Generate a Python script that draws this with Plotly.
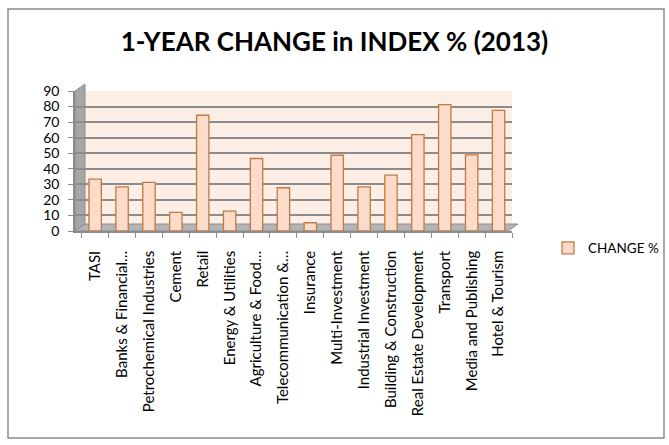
import plotly.graph_objects as go

categories = [
    "TASI", "Banks & Financial…", "Petrochemical Industries", "Cement", "Retail",
    "Energy & Utilities", "Agriculture & Food…", "Telecommunication &…", "Insurance",
    "Multi-Investment", "Industrial Investment", "Building & Construction",
    "Real Estate Development", "Transport", "Media and Publishing", "Hotel & Tourism",
]
change_pct = [33.3, 28.4, 31.2, 12.0, 74.4, 12.8, 46.6, 27.8, 5.3,
              48.7, 28.4, 35.9, 62.0, 81.2, 49.0, 77.6]
y_ticks = [0, 10, 20, 30, 40, 50, 60, 70, 80, 90]
series_name = "CHANGE %"
title_text = "1-YEAR CHANGE in INDEX % (2013)"

W, H = 669, 445
L, R = 75, 512      # plot area left/right in px
T, B = 91, 231      # plot area top/bottom in px
pw, ph = R - L, B - T

def px_x(p):
    return (p - L) / pw

def px_y(p):
    return (B - p) / ph

FONT = "Lato, Carlito, 'Open Sans', sans-serif"

fig = go.Figure()
fig.add_trace(go.Bar(
    x=categories, y=change_pct, name=series_name,
    marker=dict(color="#FCDCC9", line=dict(color="#C07A45", width=1.3)),
    width=0.46,
))

shapes = [
    # left side wall
    dict(type="path", xref="paper", yref="paper", layer="below",
         path=f"M {px_x(L)},{px_y(B)} L {px_x(L+10)},{px_y(B-7)} L {px_x(L+10)},{px_y(T-7)} L {px_x(L)},{px_y(T)} Z",
         fillcolor="#A6A6A6", line=dict(color="#8C8C8C", width=1)),
    # floor
    dict(type="path", xref="paper", yref="paper", layer="below",
         path=f"M {px_x(L)},{px_y(B)} L {px_x(R-4)},{px_y(B)} L {px_x(R+6)},{px_y(B-7)} L {px_x(L+10)},{px_y(B-7)} Z",
         fillcolor="#B4B4B4", line=dict(color="#8C8C8C", width=1)),
    # outer chart frame
    dict(type="rect", xref="paper", yref="paper",
         x0=px_x(8), x1=px_x(664), y0=px_y(438), y1=px_y(9),
         line=dict(color="#8C8C8C", width=1.5), fillcolor="rgba(0,0,0,0)"),
]

fig.update_layout(
    width=W, height=H,
    margin=dict(l=L, r=W - R, t=T, b=H - B, pad=0),
    paper_bgcolor="white",
    plot_bgcolor="#FDEEE5",
    font=dict(family=FONT, color="#000000", size=13),
    title=dict(text=f"<b>{title_text}</b>", x=0.5, xref="container", xanchor="center",
               y=1 - 42 / H, yref="container", yanchor="middle",
               font=dict(family=FONT, size=26, color="#000000")),
    bargap=0.5,
    showlegend=True,
    legend=dict(x=548 / W, y=1 - 248 / H, xref="container", yref="container",
                xanchor="left", yanchor="middle",
                font=dict(family=FONT, size=13.5), bgcolor="rgba(0,0,0,0)",
                itemwidth=30),
    shapes=shapes,
)
fig.update_xaxes(
    type="category", tickangle=-90, tickson="boundaries",
    range=[-0.75, len(categories) - 0.5],
    ticks="outside", ticklen=5, tickcolor="#8C8C8C",
    showline=True, linecolor="#8C8C8C", linewidth=1.5,
    showgrid=False, ticklabelstandoff=12,
    tickfont=dict(family=FONT, size=15),
)
fig.update_yaxes(
    range=[0, 90], tickvals=y_ticks, ticks="outside", ticklen=5, tickcolor="#8C8C8C",
    showline=True, linecolor="#8C8C8C", linewidth=1.5,
    showgrid=True, gridcolor="#8C8C8C", gridwidth=1.5, zeroline=False,
    tickfont=dict(family=FONT, size=14), ticklabelstandoff=6,
)
fig.write_html("out.html", config={"displayModeBar": False},
               post_script="document.body.style.margin='0';")
